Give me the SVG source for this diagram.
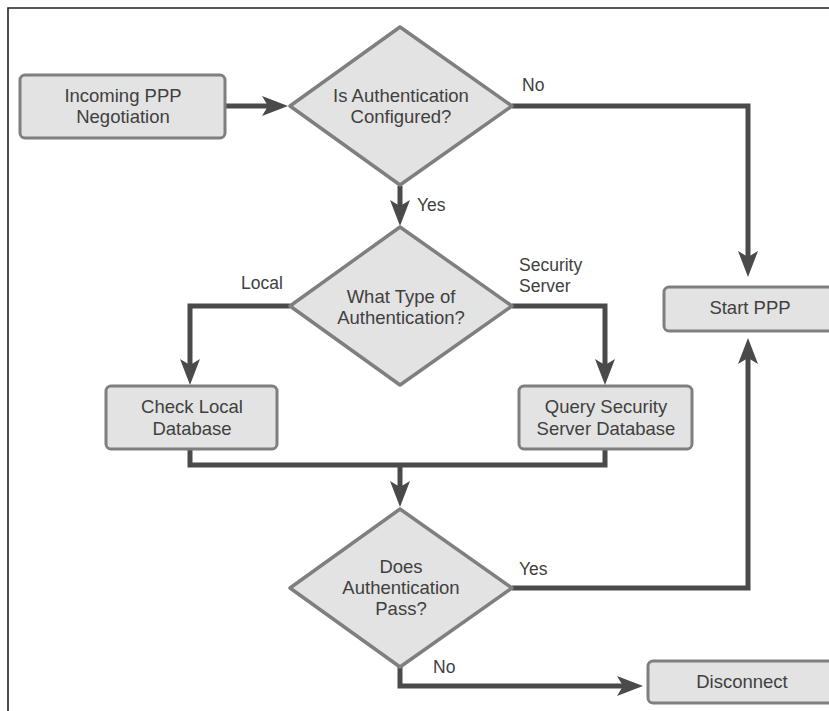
<svg xmlns="http://www.w3.org/2000/svg" width="829" height="711" viewBox="0 0 829 711">
  <style>
    .box { fill: #e3e3e3; stroke: #7f7f7f; stroke-width: 3; }
    .dia { fill: #e3e3e3; stroke: #7f7f7f; stroke-width: 3.5; stroke-linejoin: round; }
    .t { font-family: "Liberation Sans", Arial, sans-serif; font-size: 18.5px; fill: #404040; text-anchor: middle; }
    .lbl { font-family: "Liberation Sans", Arial, sans-serif; font-size: 17.5px; fill: #404040; }
    .wire { fill: none; stroke: #4a4a4a; stroke-width: 5; stroke-linejoin: miter; }
    .arr { marker-end: url(#head); }
  </style>
  <defs>
    <marker id="head" viewBox="0 0 26 20" refX="14" refY="10" markerWidth="26" markerHeight="20" markerUnits="userSpaceOnUse" orient="auto">
      <path d="M0,0 L26,10 L0,20 L6,10 Z" fill="#4a4a4a"/>
    </marker>
  </defs>

  <rect width="829" height="711" fill="#ffffff"/>
  <!-- page frame -->
  <path d="M8,711 V8 H829" fill="none" stroke="#222" stroke-width="1.6"/>

  <g id="connectors">
    <path class="wire arr" d="M225,106 H276"/>
    <path class="wire arr" d="M512,106 H748 V265"/>
    <path class="wire arr" d="M400,186 V214"/>
    <path class="wire arr" d="M290,306 H190 V373"/>
    <path class="wire arr" d="M512,306 H605 V373"/>
    <path class="wire" d="M190,449 V465 H605 V449"/>
    <path class="wire arr" d="M400,465 V495"/>
    <path class="wire arr" d="M512,588 H748 V350"/>
    <path class="wire arr" d="M400,667 V686 H631"/>
    <text class="lbl" x="522" y="91">No</text>
    <text class="lbl" x="417" y="211">Yes</text>
    <text class="lbl" x="241" y="289">Local</text>
    <text class="lbl" x="519" y="271">Security</text>
    <text class="lbl" x="519" y="292">Server</text>
    <text class="lbl" x="519" y="575">Yes</text>
    <text class="lbl" x="433" y="673">No</text>
  </g>

  <g id="incoming">
    <rect class="box" x="20" y="75" width="205" height="63" rx="5"/>
    <text class="t" x="123" y="102">Incoming PPP</text>
    <text class="t" x="123" y="123">Negotiation</text>
  </g>

  <g id="auth-configured">
    <path class="dia" d="M400,27 L512,106 L400,185 L290,106 Z"/>
    <text class="t" x="401" y="102">Is Authentication</text>
    <text class="t" x="401" y="123">Configured?</text>
  </g>

  <g id="auth-type">
    <path class="dia" d="M400,227 L512,306 L400,385 L290,306 Z"/>
    <text class="t" x="401" y="303">What Type of</text>
    <text class="t" x="401" y="324">Authentication?</text>
  </g>

  <g id="start-ppp">
    <rect class="box" x="664" y="287" width="180" height="44" rx="5"/>
    <text class="t" x="750" y="314">Start PPP</text>
  </g>

  <g id="check-local">
    <rect class="box" x="106" y="386" width="171" height="63" rx="5"/>
    <text class="t" x="192" y="413">Check Local</text>
    <text class="t" x="192" y="435">Database</text>
  </g>

  <g id="query-server">
    <rect class="box" x="519" y="386" width="173" height="63" rx="5"/>
    <text class="t" x="606" y="413">Query Security</text>
    <text class="t" x="606" y="435">Server Database</text>
  </g>

  <g id="auth-pass">
    <path class="dia" d="M400,509 L512,588 L400,667 L290,588 Z"/>
    <text class="t" x="401" y="573">Does</text>
    <text class="t" x="401" y="594">Authentication</text>
    <text class="t" x="401" y="615">Pass?</text>
  </g>

  <g id="disconnect">
    <rect class="box" x="648" y="661" width="200" height="42" rx="5"/>
    <text class="t" x="742" y="688">Disconnect</text>
  </g>
</svg>
